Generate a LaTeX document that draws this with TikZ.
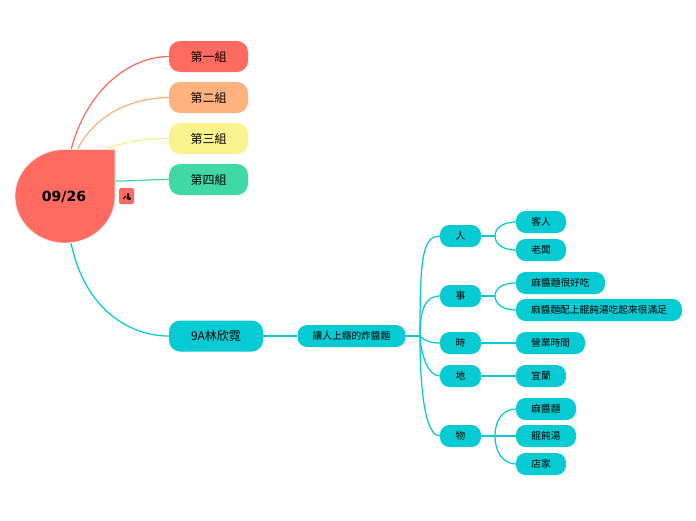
\documentclass[tikz,border=0pt]{standalone}
\usepackage{fontspec}
\setmainfont{Noto Sans CJK TC}
\newfontfamily\latinbold{DejaVu Sans}
\definecolor{tealc}{HTML}{06CBD3}
\definecolor{redc}{HTML}{FF6A61}
\definecolor{orangec}{HTML}{FFB27D}
\definecolor{yellowc}{HTML}{F8F38C}
\definecolor{greenc}{HTML}{40D8A5}
\tikzset{
  pill/.style={rounded corners=#1, inner sep=0pt, text=black, anchor=center},
  big/.style={pill=11pt, minimum height=31pt, font=\fontsize{12}{14}\selectfont},
  small/.style={pill=9.5pt, fill=tealc, minimum height=22pt, font=\fontsize{9.7}{11}\selectfont},
  wire/.style={line width=1.25pt, tealc},
  rootwire/.style={line width=1.25pt}
}
\begin{document}
\begin{tikzpicture}[x=1pt,y=-1pt]
\useasboundingbox (0,0) rectangle (696,520);
% free connector ends on the root shape
\coordinate (ra) at (71,150);
\coordinate (rb) at (77,150);
\coordinate (rc) at (105,149);
\coordinate (rd) at (116,181);
\coordinate (re) at (71,243);
% first-level nodes
\node[big,fill=redc,minimum width=79pt] (g1) at (208.5,56.5) {第一組};
\node[big,fill=orangec,minimum width=79pt] (g2) at (208.5,97.5) {第二組};
\node[big,fill=yellowc,minimum width=79pt] (g3) at (208.5,138.5) {第三組};
\node[big,fill=greenc,minimum width=79pt] (g4) at (208.5,179.5) {第四組};
\node[big,fill=tealc,minimum width=94pt] (m) at (216,336) {9A林欣霓};
\node[small,minimum width=108pt] (t) at (351.5,336) {讓人上癮的炸醬麵};
% second level
\node[small,minimum width=41pt] (p) at (460.5,236) {人};
\node[small,minimum width=41pt] (s) at (460.5,296) {事};
\node[small,minimum width=41pt] (w) at (460.5,343) {時};
\node[small,minimum width=41pt] (d) at (460.5,376) {地};
\node[small,minimum width=41pt] (o) at (460.5,436) {物};
% leaves
\node[small,minimum width=50pt] (p1) at (541,222) {客人};
\node[small,minimum width=50pt] (p2) at (541,250) {老闆};
\node[small,minimum width=89pt] (s1) at (560.5,283) {麻醬麵很好吃};
\node[small,minimum width=166pt] (s2) at (599,310) {麻醬麵配上餛飩湯吃起來很滿足};
\node[small,minimum width=69pt] (w1) at (550.5,343) {營業時間};
\node[small,minimum width=50pt] (d1) at (541,376) {宜蘭};
\node[small,minimum width=60pt] (o1) at (546,409) {麻醬麵};
\node[small,minimum width=60pt] (o2) at (546,436) {餛飩湯};
\node[small,minimum width=50pt] (o3) at (541,464) {店家};
% junctions
\coordinate (jt) at (420,336);
\coordinate (jp) at (495,236);
\coordinate (js) at (495,296);
\coordinate (jo) at (495,436);
% root connectors
\draw[rootwire,redc] (ra) .. controls (85,95) and (125,57) .. (g1.west);
\draw[rootwire,orangec] (rb) .. controls (95,115) and (130,98) .. (g2.west);
\draw[rootwire,yellowc] (rc) .. controls (125,142) and (145,138.5) .. (g3.west);
\draw[rootwire,greenc] (rd) .. controls (135,181) and (150,179.5) .. (g4.west);
\draw[rootwire,tealc] (re) .. controls (85,310) and (130,336) .. (m.west);
% teal connectors
\draw[wire] (m.east) -- (t.west);
\draw[wire] (t.east) -- (jt);
\draw[wire] (jt) .. controls (420,260) and (422,236) .. (p.west);
\draw[wire] (jt) .. controls (420,310) and (425,296) .. (s.west);
\draw[wire] (jt) .. controls (423,340) and (430,343) .. (w.west);
\draw[wire] (jt) .. controls (421,355) and (428,376) .. (d.west);
\draw[wire] (jt) .. controls (420,405) and (428,436) .. (o.west);
\draw[wire] (p.east) -- (jp);
\draw[wire] (jp) .. controls (495,228) and (503,222) .. (p1.west);
\draw[wire] (jp) .. controls (495,244) and (503,250) .. (p2.west);
\draw[wire] (s.east) -- (js);
\draw[wire] (js) .. controls (495,288) and (503,283) .. (s1.west);
\draw[wire] (js) .. controls (495,304) and (503,310) .. (s2.west);
\draw[wire] (w.east) -- (w1.west);
\draw[wire] (d.east) -- (d1.west);
\draw[wire] (o.east) -- (o2.west);
\draw[wire] (jo) .. controls (495,420) and (503,409) .. (o1.west);
\draw[wire] (jo) .. controls (495,452) and (503,464) .. (o3.west);
% root shape
\filldraw[fill=redc,draw=redc!20!white,line width=0.7pt]
  (115,149.5) -- (65,149.5)
  arc[x radius=50,y radius=46.75,start angle=270,end angle=90]
  arc[x radius=50,y radius=46.75,start angle=90,end angle=0]
  -- cycle;
\node[font=\latinbold\bfseries\fontsize{14}{16}\selectfont,inner sep=0pt] (root) at (64,197) {09/26};
% icon
\node[fill=redc,rounded corners=1.5pt,minimum width=15pt,minimum height=16pt,inner sep=0pt] (icon) at (126.5,196) {};
\fill[black] (123,198) -- (125.5,195.5) -- (126,196.5) -- (124,199) -- cycle;
\fill[black] (127.5,193) -- (128.5,193) -- (129,196) -- (131,198.5) -- (130,200) -- (126.5,199) -- (127,196.5) -- cycle;
\end{tikzpicture}
\end{document}
